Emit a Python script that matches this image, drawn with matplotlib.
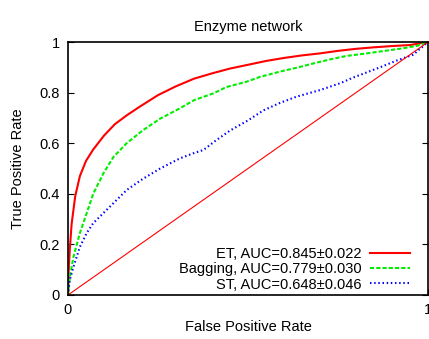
import matplotlib
matplotlib.use("Agg")
import matplotlib.pyplot as plt

plt.rcParams['font.family'] = ['Liberation Sans', 'DejaVu Sans']

# ROC curves
et_fpr = [0, 0.002, 0.005, 0.01, 0.02, 0.033, 0.05, 0.07, 0.1, 0.13, 0.163, 0.2, 0.25,
          0.3, 0.35, 0.4, 0.45, 0.5, 0.55, 0.6, 0.65, 0.7, 0.75, 0.8, 0.85, 0.9, 0.95, 1.0]
et_tpr = [0, 0.10, 0.18, 0.28, 0.39, 0.47, 0.53, 0.575, 0.63, 0.675, 0.71, 0.745, 0.79,
          0.825, 0.855, 0.876, 0.895, 0.91, 0.925, 0.937, 0.947, 0.955, 0.965, 0.973, 0.979, 0.984, 0.988, 1.0]

bag_fpr = [0, 0.005, 0.015, 0.033, 0.052, 0.07, 0.098, 0.126, 0.163, 0.209, 0.256, 0.311, 0.35,
           0.404, 0.44, 0.496, 0.533, 0.589, 0.64, 0.681, 0.73, 0.774, 0.83, 0.88, 0.93, 0.97, 1.0]
bag_tpr = [0, 0.07, 0.15, 0.245, 0.324, 0.40, 0.48, 0.545, 0.60, 0.652, 0.697, 0.738, 0.77,
           0.797, 0.822, 0.843, 0.862, 0.883, 0.9, 0.915, 0.932, 0.945, 0.955, 0.965, 0.975, 0.985, 1.0]

st_fpr = [0, 0.005, 0.015, 0.033, 0.052, 0.07, 0.117, 0.163, 0.209, 0.256, 0.311, 0.348, 0.376,
          0.41, 0.45, 0.5, 0.543, 0.59, 0.635, 0.7, 0.756, 0.793, 0.83, 0.867, 0.91, 0.959, 1.0]
st_tpr = [0, 0.06, 0.11, 0.19, 0.245, 0.284, 0.35, 0.415, 0.46, 0.50, 0.54, 0.56, 0.573,
          0.61, 0.65, 0.69, 0.73, 0.76, 0.784, 0.81, 0.837, 0.86, 0.88, 0.90, 0.925, 0.95, 1.0]

labels = ['ET, AUC=0.845\u00b10.022', 'Bagging, AUC=0.779\u00b10.030', 'ST, AUC=0.648\u00b10.046']
diag = [0, 1]

fig = plt.figure(figsize=(4.29, 3.39), dpi=100)
ax = fig.add_axes([68 / 429, 1 - 295 / 339, 360 / 429, 253 / 339])

ax.plot(et_fpr, et_tpr, color='#ff0000', lw=1.5, label=labels[0])
ax.plot(bag_fpr, bag_tpr, color='#00ee00', lw=1.5, linestyle=(0, (2, 1)), label=labels[1])
ax.plot(st_fpr, st_tpr, color='#0000ff', lw=1.5, linestyle=(0, (0.7, 1.3)), label=labels[2])
ax.plot(diag, diag, color='#ff0000', lw=0.8)

ax.set_xlim(0, 1)
ax.set_ylim(0, 1)
ax.set_xticks([0, 1])
ax.set_xticklabels(['0', '1'])
ax.set_yticks([0, 0.2, 0.4, 0.6, 0.8, 1])
ax.set_yticklabels(['0', '0.2', '0.4', '0.6', '0.8', '1'])
ax.tick_params(direction='in', labelsize=10.5, length=4, right=True, top=False, pad=6)
for s in ax.spines.values():
    s.set_linewidth(1.2)

ax.set_title('Enzyme network', fontsize=10.5, pad=8)
ax.set_xlabel('False Positive Rate', fontsize=10.5, labelpad=2)
ax.set_ylabel('True Positive Rate', fontsize=10.5, labelpad=10)

ax.legend(loc='lower right', bbox_to_anchor=(1 - 11 / 360, -0.015), frameon=False,
          markerfirst=False, fontsize=10.5, handlelength=2.7, labelspacing=0.08,
          borderpad=0, handletextpad=0.6)

fig.savefig('out.png', dpi=100)
plt.close(fig)
